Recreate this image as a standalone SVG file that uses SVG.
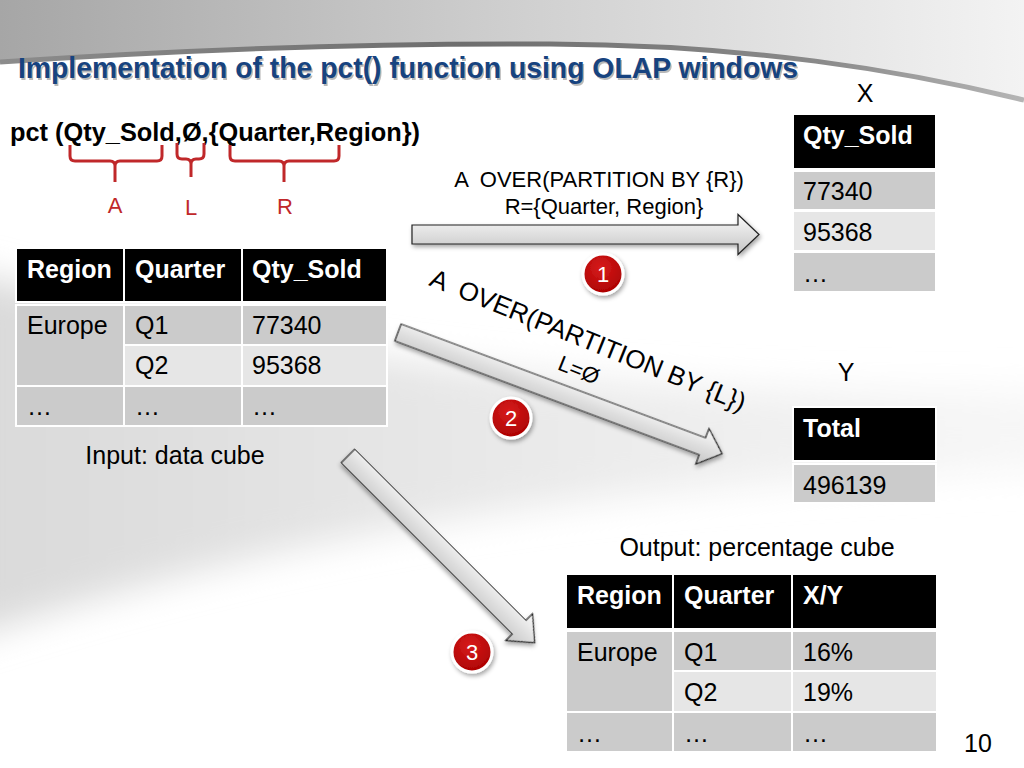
<svg xmlns="http://www.w3.org/2000/svg" width="1024" height="768" viewBox="0 0 1024 768">
<defs>
  <linearGradient id="topBand" x1="0" y1="0" x2="1" y2="0">
    <stop offset="0" stop-color="#a6a6a6"/>
    <stop offset="0.5" stop-color="#cfcfcf"/>
    <stop offset="1" stop-color="#f3f3f3"/>
  </linearGradient>
  <linearGradient id="topLine" x1="0" y1="0" x2="1" y2="0">
    <stop offset="0" stop-color="#8c8c8c"/>
    <stop offset="0.45" stop-color="#6e6e6e"/>
    <stop offset="0.8" stop-color="#8a8a8a"/>
    <stop offset="1" stop-color="#b5b5b5"/>
  </linearGradient>
  <linearGradient id="lowBand" x1="0" y1="0" x2="1" y2="0">
    <stop offset="0" stop-color="#d9d9d9"/>
    <stop offset="0.5" stop-color="#e9e9e9"/>
    <stop offset="1" stop-color="#f8f8f8"/>
  </linearGradient>
  <linearGradient id="arrowFill" x1="0" y1="0" x2="0" y2="1">
    <stop offset="0" stop-color="#fafafa"/>
    <stop offset="1" stop-color="#c4c4c4"/>
  </linearGradient>
  <radialGradient id="badgeFill" cx="0.45" cy="0.35" r="0.7">
    <stop offset="0" stop-color="#d81c1c"/>
    <stop offset="1" stop-color="#a80000"/>
  </radialGradient>
  <filter id="shadow" x="-20%" y="-20%" width="140%" height="150%">
    <feDropShadow dx="1.5" dy="2.5" stdDeviation="2" flood-color="#000" flood-opacity="0.35"/>
  </filter>
  <filter id="soft" x="-10%" y="-30%" width="120%" height="160%">
    <feGaussianBlur stdDeviation="18"/>
  </filter>
  <style>
    .t { font-family: "Liberation Sans", Arial, sans-serif; fill: #000; }
    .b { font-weight: bold; }
    .hdr { fill: #000; stroke: #fff; stroke-width: 2; }
    .dk { fill: #cbcbcb; stroke: #fff; stroke-width: 2; }
    .lt { fill: #e6e6e6; stroke: #fff; stroke-width: 2; }
    .ht { font-family: "Liberation Sans", Arial, sans-serif; font-weight: bold; font-size: 25px; fill: #fff; }
    .ct { font-family: "Liberation Sans", Arial, sans-serif; font-size: 25px; fill: #000; }
    .red { font-family: "Liberation Sans", Arial, sans-serif; font-size: 22px; fill: #c0282a; }
    .brace { fill: none; stroke: #c0282a; stroke-width: 3; stroke-linejoin: round; }
    .arrow { fill: url(#arrowFill); stroke: #222; stroke-width: 1.2; filter: url(#shadow); }
    .badge { fill: url(#badgeFill); stroke: #fff; stroke-width: 3; filter: url(#shadow); }
    .bn { font-family: "Liberation Sans", Arial, sans-serif; font-size: 22px; fill: #fff; text-anchor: middle; }
  </style>
</defs>

<!-- background -->
<rect width="1024" height="768" fill="#ffffff"/>
<path d="M-40,270 C300,360 600,400 1064,390 L1064,470 C600,480 300,530 -40,640 Z" fill="url(#lowBand)" filter="url(#soft)"/>
<path d="M0,0 H1024 V100 C900,70 750,45 550,44 C350,43 150,52 0,62 Z" fill="url(#topBand)"/>
<path d="M0,62 C150,52 350,43 550,44 C750,45 900,70 1024,100" fill="none" stroke="url(#topLine)" stroke-width="5"/>

<!-- title -->
<g id="title">
  <text x="19.5" y="79.5" class="t b" font-size="29" opacity="0.6" textLength="780" lengthAdjust="spacingAndGlyphs" style="fill:#8a8a8a">Implementation of the pct() function using OLAP windows</text>
  <text x="18" y="78" class="t b" font-size="29" textLength="780" lengthAdjust="spacingAndGlyphs" style="fill:#17437f">Implementation of the pct() function using OLAP windows</text>
</g>

<!-- formula -->
<g id="formula">
  <text x="10" y="141" class="t b" font-size="25" textLength="410" lengthAdjust="spacingAndGlyphs">pct (Qty_Sold,Ø,{Quarter,Region})</text>
  <path class="brace" d="M70,145 V156 Q70,161 75,161 H110 Q115,161 115,166 V182 M115,166 Q115,161 120,161 H157 Q162,161 162,156 V145"/>
  <path class="brace" d="M177,143 V154 Q177,159 182,159 H186 Q191,159 191,164 V177 M191,164 Q191,159 196,159 H199 Q204,159 204,154 V143"/>
  <path class="brace" d="M230,145 V156 Q230,161 235,161 H279 Q284,161 284,166 V182 M284,166 Q284,161 289,161 H334 Q339,161 339,156 V145"/>
  <text x="115" y="213" class="red" text-anchor="middle">A</text>
  <text x="191" y="215" class="red" text-anchor="middle">L</text>
  <text x="285" y="214" class="red" text-anchor="middle">R</text>
</g>

<!-- input table -->
<g id="input-table">
  <rect class="hdr" x="16" y="248" width="108" height="54"/>
  <rect class="hdr" x="124" y="248" width="118" height="54"/>
  <rect class="hdr" x="242" y="248" width="145" height="54"/>
  <rect class="dk" x="16" y="305" width="108" height="81"/>
  <rect class="dk" x="124" y="305" width="118" height="40"/>
  <rect class="dk" x="242" y="305" width="145" height="40"/>
  <rect class="lt" x="124" y="345" width="118" height="41"/>
  <rect class="lt" x="242" y="345" width="145" height="41"/>
  <rect class="dk" x="16" y="386" width="108" height="40"/>
  <rect class="dk" x="124" y="386" width="118" height="40"/>
  <rect class="dk" x="242" y="386" width="145" height="40"/>
  <text class="ht" x="27" y="278">Region</text>
  <text class="ht" x="135" y="278">Quarter</text>
  <text class="ht" x="252" y="278">Qty_Sold</text>
  <text class="ct" x="27" y="334">Europe</text>
  <text class="ct" x="135" y="334">Q1</text>
  <text class="ct" x="252" y="334">77340</text>
  <text class="ct" x="135" y="374">Q2</text>
  <text class="ct" x="252" y="374">95368</text>
  <text class="ct" x="27" y="415">…</text>
  <text class="ct" x="135" y="415">…</text>
  <text class="ct" x="252" y="415">…</text>
  <text class="ct" x="175" y="464" text-anchor="middle">Input: data cube</text>
</g>

<!-- X table -->
<g id="x-table">
  <text class="ct" x="865" y="102" text-anchor="middle">X</text>
  <rect class="hdr" x="793" y="114" width="143" height="55"/>
  <rect class="dk" x="793" y="171" width="143" height="39"/>
  <rect class="lt" x="793" y="211" width="143" height="40"/>
  <rect class="dk" x="793" y="252" width="143" height="40"/>
  <text class="ht" x="803" y="144">Qty_Sold</text>
  <text class="ct" x="803" y="200">77340</text>
  <text class="ct" x="803" y="241">95368</text>
  <text class="ct" x="803" y="282">…</text>
</g>

<!-- Y table -->
<g id="y-table">
  <text class="ct" x="846" y="381" text-anchor="middle">Y</text>
  <rect class="hdr" x="793" y="407" width="143" height="54"/>
  <rect class="dk" x="793" y="464" width="143" height="39"/>
  <text class="ht" x="803" y="437">Total</text>
  <text class="ct" x="803" y="494">496139</text>
</g>

<!-- output table -->
<g id="output-table">
  <text class="ct" x="757" y="556" text-anchor="middle">Output: percentage cube</text>
  <rect class="hdr" x="566" y="574" width="107" height="55"/>
  <rect class="hdr" x="673" y="574" width="119" height="55"/>
  <rect class="hdr" x="792" y="574" width="145" height="55"/>
  <rect class="dk" x="566" y="631" width="107" height="81"/>
  <rect class="dk" x="673" y="631" width="119" height="40"/>
  <rect class="dk" x="792" y="631" width="145" height="40"/>
  <rect class="lt" x="673" y="671" width="119" height="41"/>
  <rect class="lt" x="792" y="671" width="145" height="41"/>
  <rect class="dk" x="566" y="712" width="107" height="40"/>
  <rect class="dk" x="673" y="712" width="119" height="40"/>
  <rect class="dk" x="792" y="712" width="145" height="40"/>
  <text class="ht" x="577" y="604">Region</text>
  <text class="ht" x="684" y="604">Quarter</text>
  <text class="ht" x="803" y="604">X/Y</text>
  <text class="ct" x="577" y="661">Europe</text>
  <text class="ct" x="684" y="661">Q1</text>
  <text class="ct" x="803" y="661">16%</text>
  <text class="ct" x="684" y="701">Q2</text>
  <text class="ct" x="803" y="701">19%</text>
  <text class="ct" x="577" y="742">…</text>
  <text class="ct" x="684" y="742">…</text>
  <text class="ct" x="803" y="742">…</text>
</g>

<!-- connectors -->
<g id="connectors">
  <path class="arrow" transform="translate(412,234.5)" d="M0,-9.5 H326 V-20 L347,0 L326,20 V9.5 H0 Z"/>
  <path class="arrow" transform="translate(398,332.5) rotate(20.5)" d="M0,-9 H325 V-19 L346,0 L325,19 V9 H0 Z"/>
  <path class="arrow" transform="translate(348,456) rotate(45)" d="M0,-9.5 H242 V-19 L264,0 L242,19 V9.5 H0 Z"/>
  <text class="t" font-size="22" x="599" y="187" text-anchor="middle" style="white-space:pre">A  OVER(PARTITION BY {R})</text>
  <text class="t" font-size="22" x="604" y="214" text-anchor="middle">R={Quarter, Region}</text>
  <text class="t" font-size="26" x="428" y="285" transform="rotate(22 428 285)" style="white-space:pre">A  OVER(PARTITION BY {L})</text>
  <text class="t" font-size="22" x="576" y="377" text-anchor="middle" transform="rotate(22 576 377)">L=Ø</text>
</g>

<!-- badges -->
<g id="badge-1">
  <circle class="badge" cx="603" cy="274" r="20"/>
  <text class="bn" x="603" y="282">1</text>
</g>
<g id="badge-2">
  <circle class="badge" cx="511" cy="418" r="20"/>
  <text class="bn" x="511" y="426">2</text>
</g>
<g id="badge-3">
  <circle class="badge" cx="472" cy="652" r="20"/>
  <text class="bn" x="472" y="660">3</text>
</g>

<g id="page-number">
  <text class="ct" x="978" y="752" text-anchor="middle">10</text>
</g>
</svg>
